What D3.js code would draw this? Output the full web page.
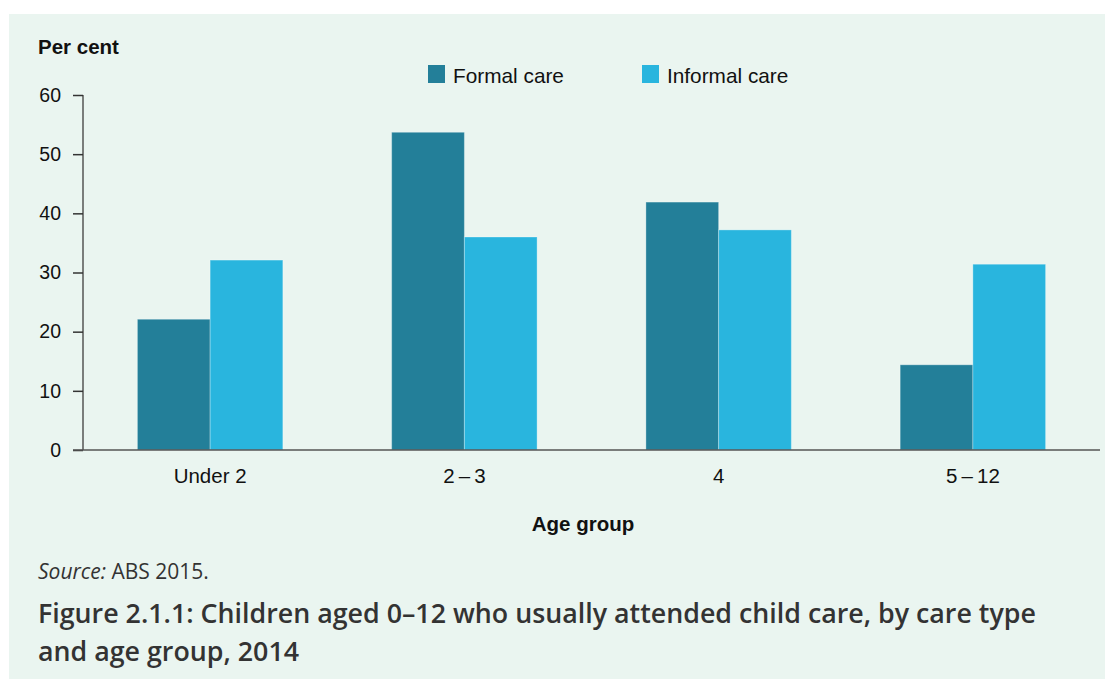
<!DOCTYPE html>
<html>
<head>
<meta charset="utf-8">
<script src="https://cdn.jsdelivr.net/npm/d3@7"></script>
<style>
  html, body { margin: 0; padding: 0; background: #fff; }
  svg { display: block; }
</style>
</head>
<body>
<div id="chart"></div>
<script>
const ageGroups = ['Under 2', '2\u2009\u2013\u20093', '4', '5\u2009\u2013\u200912'];
const seriesNames = ['Formal care', 'Informal care'];
const formalCare = [22.1, 53.7, 41.9, 14.4];
const informalCare = [32.1, 36.0, 37.2, 31.4];
const yTicks = [0, 10, 20, 30, 40, 50, 60];

const colors = { 'Formal care': '#237f99', 'Informal care': '#29b5de' };
const sans = 'Liberation Sans, Arial, sans-serif';

const W = 1105, H = 682;
const svg = d3.select('#chart').append('svg').attr('width', W).attr('height', H);

// panel
svg.append('rect')
  .attr('x', 9).attr('y', 14)
  .attr('width', W - 9).attr('height', 665)
  .attr('fill', '#eaf5f0');

const margin = { left: 83, right: 5, top: 95, bottom: 232 };
const x0 = d3.scaleBand()
  .domain(ageGroups)
  .range([margin.left, W - margin.right])
  .paddingInner(0.428)
  .paddingOuter(0.214);
const x1 = d3.scaleBand().domain(seriesNames).range([0, x0.bandwidth()]);
const y = d3.scaleLinear().domain([0, 60]).range([H - margin.bottom, margin.top]);

const rows = ageGroups.map((g, i) => ({
  group: g,
  values: [
    { key: 'Formal care', value: formalCare[i] },
    { key: 'Informal care', value: informalCare[i] }
  ]
}));

// bars
svg.append('g')
  .selectAll('g')
  .data(rows)
  .join('g')
  .attr('transform', d => `translate(${x0(d.group)},0)`)
  .selectAll('rect')
  .data(d => d.values)
  .join('rect')
  .attr('x', d => x1(d.key))
  .attr('y', d => y(d.value))
  .attr('width', x1.bandwidth())
  .attr('height', d => y(0) - y(d.value))
  .attr('fill', d => colors[d.key])
  .attr('stroke', 'rgba(255,255,255,0.3)')
  .attr('stroke-width', 1);

// y axis
const yAxis = svg.append('g')
  .attr('transform', `translate(${margin.left},0)`)
  .call(d3.axisLeft(y).tickValues(yTicks).tickSize(10).tickPadding(12));
yAxis.select('.domain').attr('stroke', '#555').attr('stroke-width', 1.5)
  .attr('d', `M0,${y(60)}V${y(0)}`);
yAxis.selectAll('.tick line').attr('stroke', '#333').attr('stroke-width', 1.5);
yAxis.selectAll('.tick text')
  .attr('font-family', sans)
  .attr('font-size', 19.5).attr('fill', '#111');

// x axis
const xAxis = svg.append('g')
  .attr('transform', `translate(0,${y(0)})`)
  .call(d3.axisBottom(x0).tickSize(0).tickPadding(18));
xAxis.select('.domain').attr('stroke', '#555').attr('stroke-width', 1.5)
  .attr('d', `M${margin.left - 10},0H${W - margin.right}`);
xAxis.selectAll('.tick text')
  .attr('font-family', sans)
  .attr('font-size', 20.5).attr('fill', '#111');

// axis titles
svg.append('text')
  .attr('x', 38).attr('y', 54)
  .attr('font-family', sans)
  .attr('font-size', 20.5).attr('font-weight', 'bold').attr('fill', '#111')
  .text('Per cent');

svg.append('text')
  .attr('x', 583).attr('y', 531)
  .attr('text-anchor', 'middle')
  .attr('font-family', sans)
  .attr('font-size', 20.5).attr('font-weight', 'bold').attr('fill', '#111')
  .text('Age group');

// legend
const legendX = [428, 642];
const legend = svg.append('g')
  .selectAll('g')
  .data(seriesNames)
  .join('g')
  .attr('transform', (d, i) => `translate(${legendX[i]},65)`);
legend.append('rect')
  .attr('width', 17).attr('height', 18)
  .attr('fill', d => colors[d]);
legend.append('text')
  .attr('x', 25).attr('y', 18)
  .attr('font-family', sans)
  .attr('font-size', 20.8).attr('fill', '#111')
  .text(d => d);

// source + caption
const src = svg.append('text')
  .attr('x', 38).attr('y', 579)
  .attr('font-family', 'Open Sans, sans-serif')
  .attr('font-size', 21).attr('fill', '#333');
src.append('tspan').attr('font-style', 'italic').text('Source:');
src.append('tspan').text(' ABS 2015.');

const captionLines = [
  'Figure 2.1.1: Children aged 0\u201312 who usually attended child care, by care type',
  'and age group, 2014'
];
svg.append('g')
  .selectAll('text')
  .data(captionLines)
  .join('text')
  .attr('x', 38).attr('y', (d, i) => 623 + i * 38)
  .attr('font-family', 'Open Sans, sans-serif')
  .attr('font-size', 26.8).attr('font-weight', 600).attr('fill', '#333')
  .text(d => d);
</script>
</body>
</html>
